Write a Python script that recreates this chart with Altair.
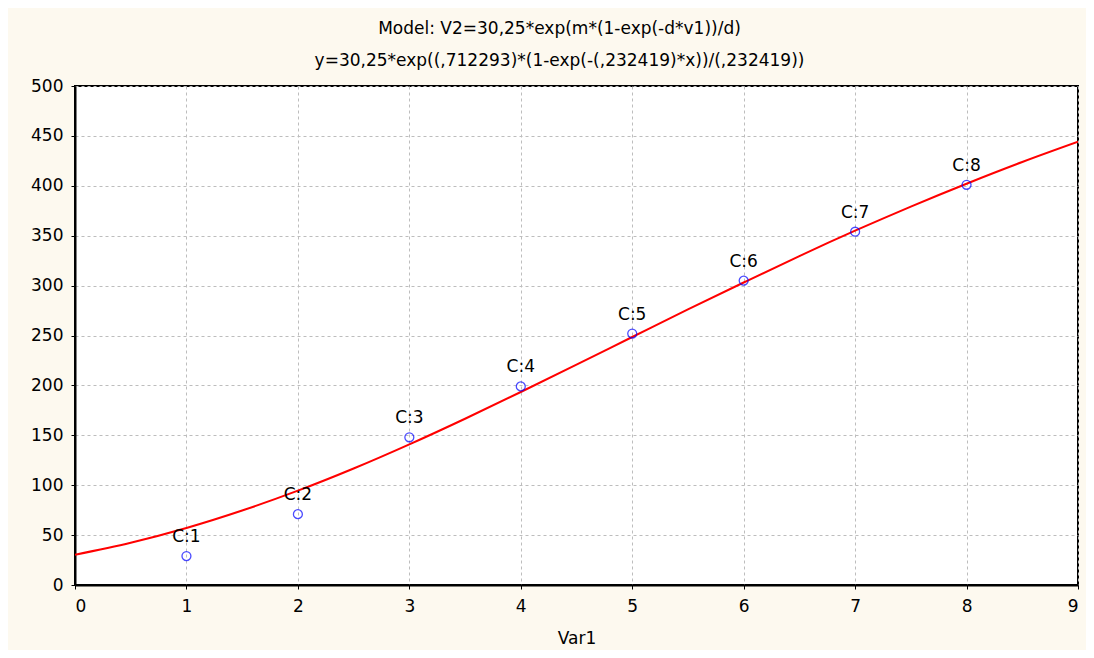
import altair as alt
import pandas as pd

# observed cases
case_x = [1, 2, 3, 4, 5, 6, 7, 8]
case_y = [29, 71, 148, 199, 252, 305, 354, 401]
case_labels = ["C:1", "C:2", "C:3", "C:4", "C:5", "C:6", "C:7", "C:8"]

# fitted curve, values
curve_x = [0, 0.5, 1, 1.5, 2, 2.5, 3, 3.5, 4, 4.5, 5, 5.5, 6, 6.5, 7, 7.5, 8, 8.5, 9]
curve_y = [30.3, 42.3, 57.1, 74.6, 94.5, 116.7, 140.9, 166.6, 193.4, 220.8, 248.5,
           276.1, 303.1, 329.6, 355.0, 379.2, 402.1, 423.8, 444.1]

x_ticks = [0, 1, 2, 3, 4, 5, 6, 7, 8, 9]
y_ticks = [0, 50, 100, 150, 200, 250, 300, 350, 400, 450, 500]

title_lines = ["Model: V2=30,25*exp(m*(1-exp(-d*v1))/d)",
               "y=30,25*exp((,712293)*(1-exp(-(,232419)*x))/(,232419))"]

pts = pd.DataFrame({"x": case_x, "y": case_y, "label": case_labels})
crv = pd.DataFrame({"x": curve_x, "y": curve_y})

FONT = "DejaVu Sans"

xs = alt.Scale(domain=[0, 9], nice=False, zero=False)
ys = alt.Scale(domain=[0, 500], nice=False, zero=False)

xax = alt.Axis(values=x_ticks, title="Var1", grid=True, gridDash=[3, 3], gridColor="#BDBDBD",
               gridWidth=1, domainColor="black", domainWidth=2, tickColor="black", tickSize=4,
               labelPadding=9, labelFontSize=17, labelColor="black", labelFont=FONT,
               titleFont=FONT, titleFontSize=17, titleFontWeight="normal", titleColor="black",
               titlePadding=16, format="d")
yax = alt.Axis(values=y_ticks, title=None, grid=True, gridDash=[3, 3], gridColor="#BDBDBD",
               gridWidth=1, domainColor="black", domainWidth=2, tickColor="black", tickSize=4,
               labelPadding=8, labelFontSize=17, labelColor="black", labelFont=FONT, format="d")

line = alt.Chart(crv).mark_line(color="#FF0000", strokeWidth=2, interpolate="monotone", clip=True).encode(
    x=alt.X("x:Q", scale=xs, axis=xax),
    y=alt.Y("y:Q", scale=ys, axis=yax),
)

points = alt.Chart(pts).mark_point(shape="circle", size=80, filled=False, color="#0000FF",
                                   strokeWidth=1.3).encode(
    x=alt.X("x:Q", scale=xs),
    y=alt.Y("y:Q", scale=ys),
)

labels = alt.Chart(pts).mark_text(fontSize=17, font=FONT, color="black", dy=-19,
                                  align="center").encode(
    x=alt.X("x:Q", scale=xs),
    y=alt.Y("y:Q", scale=ys),
    text="label:N",
)

chart = alt.layer(line, points, labels).properties(
    width=1003,
    height=499,
    background="#FDF9EF",
    padding={"left": 67, "top": 78, "right": 8, "bottom": 65},
    autosize=alt.AutoSizeParams(type="none"),
    title=alt.TitleParams(text=title_lines, font=FONT, fontSize=17, fontWeight="normal",
                          color="black", anchor="middle", dx=-17, offset=7, lineHeight=32),
).configure_view(
    stroke="black", strokeWidth=2, fill="white"
)

chart.save("out.html", embed_options={"renderer": "svg", "actions": False})
